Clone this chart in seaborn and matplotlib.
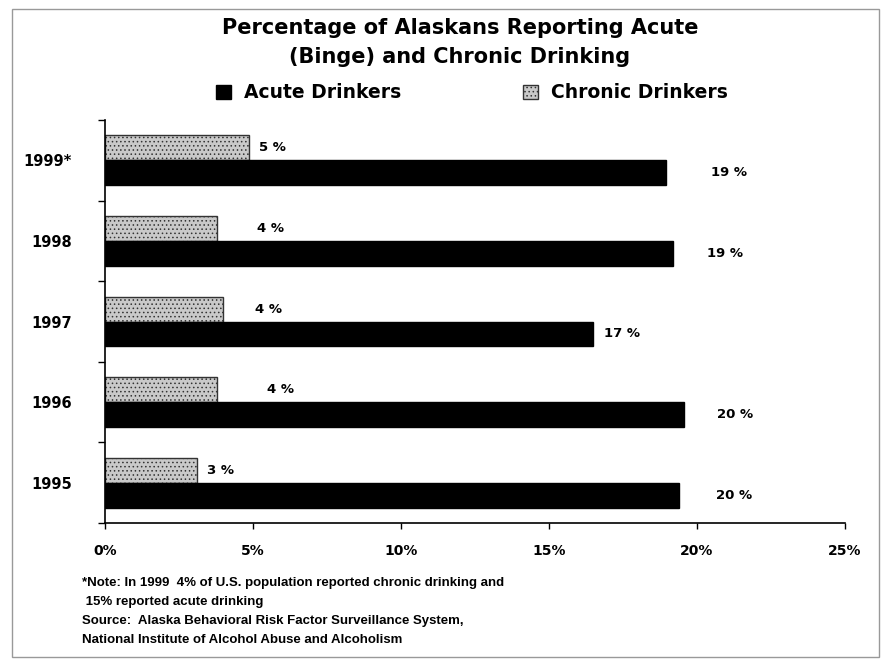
import matplotlib
matplotlib.use("Agg")
import matplotlib.pyplot as plt
import seaborn as sns
import pandas as pd
from matplotlib.patches import Patch, Rectangle

# ---- data ----
years = ["1999*", "1998", "1997", "1996", "1995"]
acute = [18.95, 19.2, 16.5, 19.55, 19.4]
chronic = [4.85, 3.8, 4.0, 3.8, 3.1]
acute_labels = ["19 %", "19 %", "17 %", "20 %", "20 %"]
chronic_labels = ["5 %", "4 %", "4 %", "4 %", "3 %"]
xticks = [0, 5, 10, 15, 20, 25]
xtick_labels = ["0%", "5%", "10%", "15%", "20%", "25%"]

# label offsets (pixels from bar end) — layout only
acute_off = [45, 34, 11, 33, 37]
chronic_off = [10, 40, 32, 50, 10]

sns.set_theme(style="white")
plt.rcParams["font.family"] = ["DejaVu Sans"]
plt.rcParams["font.weight"] = "bold"
plt.rcParams["text.color"] = "black"
plt.rcParams["xtick.color"] = "black"
plt.rcParams["ytick.color"] = "black"
plt.rcParams["hatch.color"] = "#777777"
plt.rcParams["hatch.linewidth"] = 0.6

df = pd.DataFrame({
    "Year": years * 2,
    "Value": acute + chronic,
    "Series": ["Acute Drinkers"] * len(years) + ["Chronic Drinkers"] * len(years),
})

fig = plt.figure(figsize=(8.81, 6.60), dpi=100)
ax = fig.add_axes([105 / 881, 1 - 523 / 660, (845 - 105) / 881, (523 - 120) / 660])

sns.barplot(data=df, y="Year", x="Value", hue="Series",
            hue_order=["Chronic Drinkers", "Acute Drinkers"], order=years,
            palette={"Acute Drinkers": "black", "Chronic Drinkers": "#c9c9c9"},
            orient="h", width=0.62, saturation=1, legend=False, ax=ax,
            edgecolor="black", linewidth=1.0)

for p in ax.containers[0]:
    p.set_hatch("....")
    p.set_edgecolor("#333333")

ax.set_xlim(0, 25)
ax.set_ylim(4.5, -0.5)
ax.set_xlabel("")
ax.set_ylabel("")

for sp in ["top", "right"]:
    ax.spines[sp].set_visible(False)
for sp in ["left", "bottom"]:
    ax.spines[sp].set_color("black")
    ax.spines[sp].set_linewidth(1.2)

ax.set_xticks(xticks)
ax.set_xticklabels(xtick_labels, fontsize=10, fontweight="bold")
ax.tick_params(axis="x", length=4, width=1, color="black", direction="out", pad=11, bottom=True)

ax.set_yticks(range(len(years)))
ax.set_yticklabels(years, fontsize=10.5, fontweight="bold")
ax.tick_params(axis="y", length=0, pad=24)
ax.set_yticks([i - 0.5 for i in range(len(years) + 1)], minor=True)
ax.tick_params(axis="y", which="minor", length=5, width=1, color="black", left=True)

# value labels
for i, c in enumerate(ax.containers[0]):
    y = c.get_y() + c.get_height() / 2
    ax.annotate(chronic_labels[i], (c.get_width(), y), xytext=(chronic_off[i], 0),
                textcoords="offset pixels", va="center", ha="left",
                fontsize=9.5, fontweight="bold")
for i, c in enumerate(ax.containers[1]):
    y = c.get_y() + c.get_height() / 2
    ax.annotate(acute_labels[i], (c.get_width(), y), xytext=(acute_off[i], 0),
                textcoords="offset pixels", va="center", ha="left",
                fontsize=9.5, fontweight="bold")

# title
fig.text(0.522, 1 - 28 / 660, "Percentage of Alaskans Reporting Acute",
         ha="center", va="center", fontsize=15, fontweight="bold")
fig.text(0.522, 1 - 57 / 660, "(Binge) and Chronic Drinking",
         ha="center", va="center", fontsize=15, fontweight="bold")

# legend
handles = [Patch(facecolor="black", edgecolor="black"),
           Patch(facecolor="#c9c9c9", edgecolor="#333333", hatch="....")]
fig.legend(handles, ["Acute Drinkers", "Chronic Drinkers"], loc="center",
           bbox_to_anchor=(0.536, 1 - 93 / 660), ncol=2, frameon=False,
           fontsize=13.5, handlelength=0.8, handleheight=0.8, handletextpad=0.7,
           columnspacing=6.5)

# footnote
notes = ["*Note: In 1999  4% of U.S. population reported chronic drinking and",
         " 15% reported acute drinking",
         "Source:  Alaska Behavioral Risk Factor Surveillance System,",
         "National Institute of Alcohol Abuse and Alcoholism"]
for k, line in enumerate(notes):
    fig.text(82 / 881, 1 - (583 + 19 * k) / 660, line, ha="left", va="center",
             fontsize=9.5, fontweight="bold", family=["Liberation Sans", "DejaVu Sans"])

# scan frame
fig.add_artist(Rectangle((12 / 881, 0.005), 1 - 14 / 881, 1 - 12 / 660,
                         transform=fig.transFigure, fill=False,
                         edgecolor="#999999", linewidth=1.0))

fig.savefig("out.png", dpi=100, facecolor="white")
